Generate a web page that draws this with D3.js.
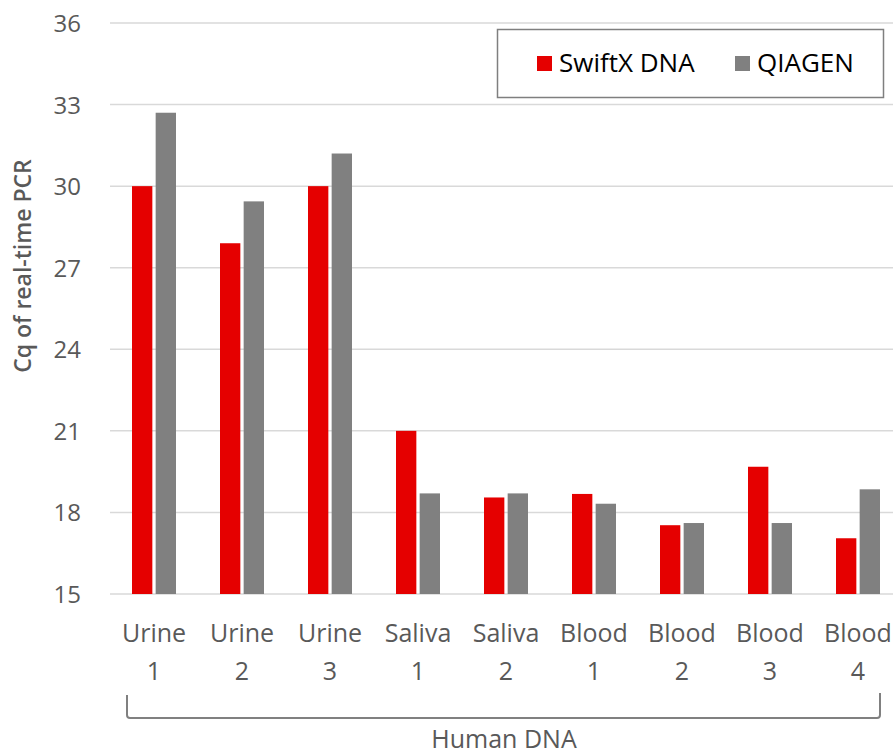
<!DOCTYPE html>
<html>
<head>
<meta charset="utf-8">
<script src="https://cdn.jsdelivr.net/npm/d3@7"></script>
<style>
  body { margin: 0; background: #fff; }
  text { font-family: "Open Sans", "Noto Sans", sans-serif; }
</style>
</head>
<body>
<div id="canvas"></div>
<script>
const width = 893;
const height = 756;

// data
const categories = [["Urine", "1"], ["Urine", "2"], ["Urine", "3"], ["Saliva", "1"], ["Saliva", "2"],
                    ["Blood", "1"], ["Blood", "2"], ["Blood", "3"], ["Blood", "4"]];
const seriesNames = ["SwiftX DNA", "QIAGEN"];
const swiftx = [30.0, 27.9, 30.0, 21.0, 18.55, 18.68, 17.53, 19.68, 17.05];
const qiagen = [32.7, 29.44, 31.2, 18.7, 18.7, 18.32, 17.61, 17.61, 18.85];
const yTicks = [15, 18, 21, 24, 27, 30, 33, 36];
const colors = ["#e50000", "#808080"];

const svg = d3.select("#canvas")
    .append("svg")
    .attr("width", width)
    .attr("height", height);

const y = d3.scaleLinear().domain([15, 36]).range([594, 23]);
const x = d3.scaleBand().domain(d3.range(categories.length)).range([110, 902]).paddingInner(0).paddingOuter(0);
const inner = d3.scaleBand().domain([0, 1]).range([22, 66]).paddingInner(0.14);

// gridlines
svg.append("g")
    .selectAll("line")
    .data(yTicks)
    .join("line")
    .attr("x1", 110)
    .attr("x2", width)
    .attr("y1", d => y(d))
    .attr("y2", d => y(d))
    .attr("stroke", "#d9d9d9")
    .attr("stroke-width", 1.5);

// y tick labels
svg.append("g")
    .selectAll("text")
    .data(yTicks)
    .join("text")
    .attr("x", 81)
    .attr("y", d => y(d) + 9)
    .attr("text-anchor", "end")
    .attr("fill", "#595959")
    .attr("font-size", 24)
    .text(d => d);

// y title
svg.append("text")
    .attr("transform", "translate(31,266) rotate(-90)")
    .attr("text-anchor", "middle")
    .attr("fill", "#595959")
    .attr("font-size", 23)
    .attr("font-weight", 600)
    .text("Cq of real-time PCR");

// bars
const allSeries = [swiftx, qiagen];
allSeries.forEach((vals, s) => {
    svg.append("g")
        .selectAll("rect")
        .data(vals)
        .join("rect")
        .attr("x", (d, i) => x(i) + inner(s))
        .attr("y", d => y(d))
        .attr("width", inner.bandwidth())
        .attr("height", d => y(15) - y(d))
        .attr("fill", colors[s]);
});

// x labels
const xl = svg.append("g")
    .selectAll("text")
    .data(categories)
    .join("text")
    .attr("text-anchor", "middle")
    .attr("fill", "#595959")
    .attr("font-size", 25);
xl.append("tspan")
    .attr("x", (d, i) => x(i) + x.bandwidth() / 2)
    .attr("y", 642)
    .text(d => d[0]);
xl.append("tspan")
    .attr("x", (d, i) => x(i) + x.bandwidth() / 2)
    .attr("y", 680)
    .text(d => d[1]);

// bracket
svg.append("path")
    .attr("d", "M127,695 L127,715 Q127,718 130,718 L877,718 Q880,718 880,715 L880,693")
    .attr("fill", "none")
    .attr("stroke", "#808080")
    .attr("stroke-width", 2);

svg.append("text")
    .attr("x", 504)
    .attr("y", 748)
    .attr("text-anchor", "middle")
    .attr("fill", "#595959")
    .attr("font-size", 25)
    .text("Human DNA");

// legend
const legend = svg.append("g");
legend.append("rect")
    .attr("x", 497.5)
    .attr("y", 29.5)
    .attr("width", 386)
    .attr("height", 68)
    .attr("fill", "#fff")
    .attr("stroke", "#7f7f7f")
    .attr("stroke-width", 1.5);
const legX = [537, 735];
seriesNames.forEach((n, i) => {
    legend.append("rect")
        .attr("x", legX[i])
        .attr("y", 56)
        .attr("width", 15)
        .attr("height", 15)
        .attr("fill", colors[i]);
    legend.append("text")
        .attr("x", legX[i] + 22)
        .attr("y", 72)
        .attr("fill", "#000")
        .attr("font-size", 26)
        .text(n);
});
</script>
</body>
</html>
